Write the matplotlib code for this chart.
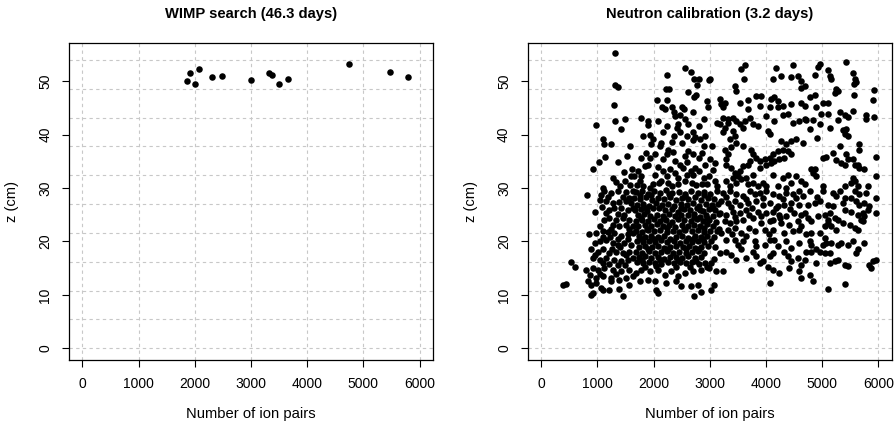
import matplotlib
matplotlib.use("Agg")
import numpy as np
import matplotlib.pyplot as plt

plt.rcParams["font.family"] = ["Liberation Sans", "DejaVu Sans"]

# ---- data (number of ion pairs, z in cm) ----------------------------------
wimp_ions = [1916, 2082, 1857, 2011, 2308, 2480, 2996, 3316, 3375, 3495,
             3665, 4740, 5475, 5790]
wimp_z = [51.6, 52.2, 50.1, 49.5, 50.7, 51.0, 50.3, 51.5, 51.1, 49.5,
          50.5, 53.3, 51.8, 50.7]

neutron_top = [
    (1317, 55.3), (2563, 52.4), (2670, 51.8), (3631, 53.0), (3560, 52.2),
    (4183, 52.5), (4479, 53.0), (4966, 53.3), (4924, 52.6), (5101, 52.1),
    (5429, 53.6), (5547, 51.5), (2805, 50.5), (2996, 50.5),
]

neutron_upper_left = [
    (1305, 49.2), (1364, 49.0), (1287, 45.6), (979, 41.8), (1317, 42.5),
    (1488, 43.0), (1417, 41.1), (1097, 39.2), (1109, 38.3), (1240, 38.3),
    (1572, 37.8), (1139, 35.8), (1518, 35.9), (1032, 34.9), (1364, 34.9),
    (925, 33.5), (1620, 33.6), (1465, 33.0), (1275, 31.9), (1335, 31.1),
    (1483, 31.4), (1394, 30.3), (1572, 30.6), (1097, 30.0), (1602, 32.2),
    (2242, 51.1), (2728, 50.5), (2980, 50.2), (2776, 49.2), (2218, 48.5),
    (2278, 48.5), (2620, 47.9), (2758, 47.4), (2716, 47.0), (2062, 46.5),
    (2230, 46.5), (2950, 46.3), (2968, 45.1), (2152, 45.1), (2200, 44.7),
    (2320, 45.1), (2362, 44.3), (2500, 45.1), (2548, 44.7), (2380, 43.5),
    (2470, 43.6), (2560, 42.9), (2620, 41.9), (1780, 43.1), (1900, 42.6),
    (1900, 41.8), (2080, 42.6), (2230, 41.6), (2440, 41.9), (2410, 41.3),
    (2470, 40.4), (2368, 39.7), (2710, 40.4), (2740, 39.6), (2698, 38.9),
    (2830, 39.1), (2908, 39.7), (1810, 39.7), (1930, 40.0), (1990, 39.1),
    (1960, 38.2), (2890, 37.9), (3040, 37.9), (3130, 42.2), (2140, 38.5),
    (2110, 37.9), (2260, 37.2), (2230, 36.3), (2170, 35.4), (2500, 38.5),
    (2560, 36.0), (2620, 36.9), (2710, 36.3), (2800, 35.7), (2860, 36.6),
    (1780, 35.7), (1870, 36.6), (1930, 35.7), (1900, 34.4), (1840, 34.1),
    (2380, 35.1), (2470, 34.4), (2530, 33.8), (2740, 33.8), (2710, 32.5),
    (2920, 34.4), (3010, 35.4), (3100, 34.7), (1720, 33.2), (1660, 32.2),
    (1780, 32.2), (1750, 31.3), (1810, 30.4), (2020, 32.5), (2170, 33.2),
    (2230, 32.2), (2140, 31.3), (2260, 31.0), (2320, 30.4), (2440, 31.9),
    (2440, 30.7), (2560, 31.3), (2890, 31.9), (2980, 32.2), (2860, 30.7),
    (2950, 30.7), (3100, 31.3), (3130, 30.4), (1990, 30.7), (1930, 30.0),
    (2080, 33.9), (2300, 33.6), (2600, 34.9), (2660, 33.2), (2810, 33.1),
    (2590, 32.4), (2090, 30.9), (2680, 31.0), (2760, 30.5), (2350, 36.7),
    (2020, 36.4), (2320, 38.6), (2590, 39.8), (2800, 41.6), (2160, 40.5),
    (1700, 30.6), (2380, 32.8), (3050, 33.4), (2900, 43.0), (2700, 44.3),
]

neutron_upper_right = [
    (3607, 50.4), (4123, 50.4), (4271, 51.0), (4449, 50.7), (4568, 51.0),
    (4627, 50.1), (3441, 49.1), (3459, 48.2), (4627, 48.8), (3174, 46.6),
    (3204, 45.7), (3233, 45.1), (3263, 46.0), (3530, 46.0), (3678, 46.4),
    (3826, 47.2), (3915, 47.2), (3886, 45.4), (3678, 44.7), (4093, 46.6),
    (4152, 47.1), (4212, 46.3), (4449, 45.8), (4627, 46.0), (4064, 45.1),
    (4212, 45.1), (4301, 45.4), (4004, 43.5), (4152, 42.6), (4301, 43.7),
    (4390, 43.9), (4479, 42.1), (4597, 42.6), (3233, 43.2), (3322, 42.9),
    (3411, 43.2), (3471, 42.6), (3530, 41.9), (3619, 42.6), (3708, 43.2),
    (3589, 41.3), (3767, 41.9), (3856, 41.6), (3174, 41.9), (3263, 41.3),
    (3322, 42.2), (3233, 40.4), (3411, 40.7), (3441, 39.7), (3352, 39.1),
    (4034, 40.7), (4064, 40.1), (4271, 38.8), (4360, 38.2), (4449, 38.8),
    (4538, 39.1), (4657, 38.5), (3263, 37.2), (3322, 36.3), (3293, 35.4),
    (3382, 37.6), (3471, 38.5), (3589, 37.9), (3737, 37.2), (3767, 36.3),
    (3826, 35.7), (3886, 35.1), (3975, 35.4), (4064, 35.7), (4123, 36.3),
    (4212, 36.9), (4301, 37.2), (4390, 36.9), (4449, 36.3), (3293, 34.4),
    (3382, 33.8), (3441, 32.9), (3530, 33.2), (3589, 34.1), (3678, 34.4),
    (3708, 35.1), (3886, 33.8), (4004, 34.4), (4093, 34.7), (4152, 35.1),
    (4241, 35.4), (4330, 35.7), (3411, 31.9), (3500, 32.2), (3559, 31.6),
    (3648, 31.9), (3767, 32.5), (3293, 31.3), (3352, 30.4), (3471, 31.0),
    (4123, 32.5), (4390, 32.5), (4538, 32.2), (4627, 31.3), (4449, 31.0),
    (4301, 31.9), (3945, 31.0), (4004, 30.4), (3767, 31.0), (3856, 30.4),
    (3678, 30.7), (4212, 30.4), (4360, 30.0),
    (4865, 51.1), (5132, 51.0), (5161, 50.5), (5577, 50.4), (5606, 49.9),
    (5565, 49.4), (4687, 49.1), (5250, 48.5), (5280, 48.2), (5233, 47.7),
    (5932, 48.3), (5565, 47.4), (5903, 46.4), (4776, 47.0), (4865, 47.4),
    (4687, 45.4), (4895, 45.1), (4984, 43.9), (5013, 46.0), (5102, 46.0),
    (5102, 43.9), (5310, 44.3), (5399, 43.7), (5458, 43.3), (5547, 44.4),
    (5784, 43.7), (5784, 43.0), (5932, 43.3), (4687, 42.9), (4717, 42.7),
    (4835, 42.7), (4954, 41.9), (4776, 41.0), (5132, 41.3), (5280, 42.7),
    (5369, 40.8), (5428, 41.0), (5399, 40.1), (5458, 39.7), (4912, 39.4),
    (5310, 37.9), (5665, 38.2), (5665, 37.2), (5013, 35.7), (5072, 35.8),
    (5191, 36.5), (5250, 35.2), (5339, 34.6), (5428, 36.3), (5458, 35.4),
    (5399, 34.4), (5547, 35.4), (5577, 34.4), (5636, 34.3), (5665, 33.8),
    (5754, 33.5), (5962, 35.8), (4806, 33.6), (4865, 33.5), (4835, 32.9),
    (4895, 32.2), (4687, 30.7), (5013, 30.4), (5547, 31.9), (5577, 31.3),
    (5517, 31.0), (5636, 30.4), (5399, 30.4), (5813, 30.4), (5962, 32.2),
]

neutron_core_left = [
    (812, 28.6), (1126, 29.4), (1245, 29.1), (1364, 29.4), (1512, 29.2),
    (1631, 29.4), (1038, 27.8), (1156, 27.5), (1275, 27.2), (1393, 27.3),
    (1512, 27.5), (1601, 27.2), (949, 25.6), (1156, 25.3), (1215, 25.9),
    (1304, 26.3), (1423, 26.3), (1542, 25.9), (1631, 26.3), (1126, 24.1),
    (1215, 24.4), (1334, 24.1), (1453, 24.4), (1571, 24.1), (1275, 23.1),
    (1393, 22.8), (1512, 23.1), (1631, 22.8), (848, 21.3), (978, 21.6),
    (1097, 21.9), (1186, 21.7), (1304, 21.5), (1423, 21.0), (1542, 21.3),
    (1631, 21.6), (949, 19.7), (1038, 20.0), (1156, 20.3), (1275, 19.7),
    (1364, 19.4), (1482, 19.7), (1601, 19.4), (889, 18.5), (1008, 18.1),
    (1097, 18.5), (1215, 17.8), (1334, 18.1), (1453, 17.8), (1571, 18.1),
    (919, 16.9), (1038, 16.6), (1156, 16.9), (1304, 16.6), (1423, 16.3),
    (1542, 16.6), (1631, 16.9), (533, 16.1), (593, 15.2), (800, 14.7),
    (919, 15.0), (1008, 14.7), (1126, 15.0), (1275, 14.7), (1423, 14.4),
    (1571, 14.7), (860, 13.8), (978, 13.1), (1097, 13.5), (1245, 13.1),
    (1393, 12.8), (1512, 13.1), (1631, 13.5), (385, 11.9), (445, 12.0),
    (830, 12.5), (889, 11.9), (978, 12.2), (1245, 12.5), (1571, 11.9),
    (1067, 11.3), (1097, 11.0), (1215, 11.0), (1393, 11.1), (919, 10.3),
    (889, 10.0), (1453, 9.7),
    (1070, 28.6), (1190, 28.4), (1450, 28.3), (1570, 28.2), (1090, 26.4),
    (1360, 25.2), (1480, 25.0), (1250, 22.4), (1570, 22.3), (1040, 22.9),
    (1100, 20.8), (1230, 20.9), (1360, 20.4), (1540, 20.4), (960, 17.4),
    (1260, 18.6), (1400, 18.9), (1510, 17.5), (1100, 16.0), (1370, 15.5),
    (1200, 15.7), (1500, 15.6), (1050, 13.9), (1330, 13.9),
]

neutron_core_mid = [
    (1690, 29.2), (1795, 29.5), (1905, 28.9), (2010, 29.4), (2115, 29.0),
    (2225, 29.6), (2330, 29.1), (2445, 29.3), (2555, 28.8), (2670, 29.5),
    (2785, 29.0), (2895, 29.3), (3005, 28.9), (3120, 29.4),
    (1660, 28.1), (1750, 27.9), (1860, 28.3), (1965, 27.8), (2070, 28.2),
    (2180, 28.0), (2285, 28.4), (2395, 27.7), (2505, 28.2), (2620, 27.9),
    (2735, 28.3), (2850, 27.8), (2960, 28.1), (3075, 28.0),
    (1710, 26.9), (1815, 27.1), (1925, 26.7), (2035, 27.2), (2150, 26.8),
    (2255, 27.0), (2370, 26.6), (2480, 27.1), (2590, 26.8), (2700, 27.2),
    (2810, 26.7), (2925, 27.0), (3040, 26.8), (3150, 27.1),
    (1670, 25.9), (1780, 26.1), (1885, 25.7), (1990, 26.2), (2210, 25.8),
    (2320, 26.0), (2430, 25.6), (2545, 26.1), (2655, 25.8), (2765, 26.2),
    (2875, 25.7), (2990, 26.0), (3100, 25.9),
    (1725, 24.9), (1830, 25.1), (1940, 24.7), (2060, 25.0), (2165, 24.8),
    (2275, 25.2), (2385, 24.7), (2495, 25.0), (2605, 24.9), (2715, 25.1),
    (2825, 24.6), (2940, 25.0), (3050, 24.8), (3160, 25.2),
    (1680, 23.9), (1785, 24.1), (1895, 23.8), (2005, 24.2), (2115, 23.9),
    (2225, 24.0), (2335, 23.7), (2550, 24.1), (2660, 23.8), (2770, 24.2),
    (2880, 23.9), (2995, 24.0), (3105, 23.7),
    (1730, 22.9), (1840, 23.1), (1950, 22.8), (2060, 23.2), (2170, 22.9),
    (2280, 23.0), (2390, 22.7), (2500, 23.1), (2610, 22.8), (2720, 23.0),
    (2830, 22.9), (2945, 23.2), (3060, 22.8),
    (1690, 22.0), (1795, 21.8), (1905, 22.1), (2010, 21.9), (2120, 22.2),
    (2235, 21.8), (2345, 22.0), (2455, 21.7), (2565, 22.1), (2675, 21.9),
    (2785, 22.2), (2895, 21.8), (3010, 22.0), (3120, 21.9),
    (1740, 21.0), (1850, 20.8), (1960, 21.1), (2070, 20.9), (2180, 21.1),
    (2400, 20.8), (2510, 21.0), (2620, 20.7), (2730, 21.1), (2840, 20.9),
    (2955, 21.0), (3070, 20.8),
    (1700, 20.0), (1810, 19.8), (1915, 20.1), (2025, 19.9), (2135, 20.2),
    (2245, 19.8), (2355, 20.0), (2465, 19.7), (2575, 20.1), (2685, 19.9),
    (2795, 20.1), (2905, 19.8), (3020, 20.0),
    (1745, 19.0), (1855, 19.2), (1965, 18.9), (2075, 19.1), (2185, 18.8),
    (2295, 19.0), (2405, 19.2), (2515, 18.9), (2625, 19.1), (2740, 18.8),
    (2850, 19.0), (2960, 19.1),
    (1690, 18.1), (1800, 17.9), (1910, 18.2), (2020, 17.8), (2130, 18.0),
    (2240, 18.2), (2350, 17.9), (2460, 18.1), (2570, 17.8), (2680, 18.0),
    (2790, 18.2), (2900, 17.9),
    (1740, 17.0), (1850, 17.2), (1960, 16.9), (2070, 17.1), (2180, 16.8),
    (2290, 17.1), (2400, 17.0), (2510, 16.9), (2620, 17.2), (2730, 16.9),
    (2840, 17.0),
    (1700, 16.1), (1810, 15.9), (1920, 16.2), (2030, 16.0), (2140, 15.8),
    (2250, 16.1), (2360, 15.9), (2470, 16.2), (2580, 15.9), (2690, 16.1),
    (2800, 15.8), (2910, 16.0), (3030, 15.9),
    (1691, 14.1), (1780, 14.7), (1928, 14.4), (2076, 14.7), (2195, 13.8),
    (2313, 14.4), (2432, 13.5), (2551, 14.1), (2699, 14.4), (2847, 14.7),
    (2995, 15.0), (3114, 14.4), (1750, 12.5), (1898, 12.8), (2017, 12.5),
    (2224, 12.2), (2402, 12.5), (2491, 11.6), (2669, 11.6), (2788, 11.9),
    (2847, 10.6), (3084, 11.9), (3025, 10.9), (2046, 10.9), (2076, 10.3),
    (2728, 9.7),
    (1750, 28.7), (1960, 28.6), (2280, 28.9), (2560, 28.5), (2900, 28.6),
    (1870, 26.2), (2100, 26.3), (2480, 26.2), (2820, 25.9), (3060, 26.2),
    (1780, 24.3), (2190, 24.4), (2440, 24.2), (2720, 24.5), (2950, 24.4),
    (1880, 22.4), (2230, 22.5), (2540, 22.3), (2890, 22.5), (3170, 22.4),
    (1790, 20.5), (2000, 20.5), (2300, 20.4), (2700, 20.5), (2880, 20.4),
    (1900, 18.6), (2250, 18.5), (2580, 18.6), (2810, 18.5), (3100, 18.9),
    (1790, 16.6), (2120, 16.5), (2440, 16.6), (2760, 16.4), (3080, 16.7),
    (1850, 15.3), (2050, 15.4), (2400, 15.2), (2650, 15.2), (2950, 15.3),
]

neutron_core_right = [
    (3233, 29.1), (3352, 29.4), (3471, 28.8), (3589, 28.5), (3708, 29.4),
    (3797, 28.8), (3886, 29.1), (4004, 29.4), (4123, 28.8), (4241, 28.5),
    (4360, 29.1), (4479, 28.8), (4597, 29.4), (4657, 28.5),
    (3204, 27.5), (3322, 27.2), (3441, 27.5), (3530, 26.9), (3678, 27.2),
    (3826, 27.5), (3945, 26.9), (4064, 27.2), (4212, 26.6), (4330, 26.9),
    (4449, 27.2), (4597, 26.9),
    (3174, 25.3), (3293, 25.0), (3411, 25.6), (3530, 25.3), (3648, 25.9),
    (3856, 25.6), (3915, 24.7), (4004, 25.3), (4123, 25.6), (4241, 25.0),
    (4360, 24.7), (4508, 25.3), (4627, 25.0),
    (3263, 23.8), (3352, 23.5), (3471, 23.8), (3589, 24.1), (3767, 24.4),
    (3915, 23.5), (4064, 23.8), (4123, 24.1), (4271, 23.5), (4419, 23.1),
    (4568, 23.8), (4627, 22.8),
    (3204, 21.6), (3322, 22.2), (3441, 22.5), (3559, 21.6), (3648, 21.0),
    (3797, 21.9), (3975, 22.2), (4123, 22.2), (4330, 21.6), (4479, 21.9),
    (4597, 22.2),
    (3293, 20.3), (3441, 20.3), (3500, 19.4), (3797, 20.0), (3826, 19.1),
    (4064, 20.3), (4152, 20.3), (4212, 19.1), (4360, 20.0), (4449, 18.8),
    (4597, 19.7),
    (3174, 17.8), (3293, 18.1), (3382, 17.5), (3471, 16.6), (3559, 18.5),
    (3648, 16.9), (3767, 18.1), (3826, 17.2), (3945, 16.3), (4064, 17.2),
    (4123, 17.8), (4330, 18.1), (4390, 17.2), (4449, 16.3), (4568, 16.9),
    (4627, 15.6),
    (3233, 14.4), (3737, 14.7), (3886, 15.9), (4034, 15.3), (4123, 14.7),
    (4241, 14.1), (4419, 15.0), (4597, 14.4), (4064, 12.2), (4627, 13.1),
    (4776, 29.4), (5013, 29.4), (5191, 29.1), (5250, 28.5), (5310, 29.4),
    (5577, 29.4), (5665, 28.8), (5784, 29.1), (5962, 28.1), (4746, 26.9),
    (4865, 27.2), (4954, 27.5), (5102, 26.9), (5191, 26.6), (5369, 27.2),
    (5517, 28.1), (5606, 27.5), (5665, 26.9), (5754, 27.2), (5843, 26.6),
    (5962, 25.3), (4687, 25.3), (4746, 24.4), (4806, 23.8), (4924, 24.7),
    (5043, 25.0), (5132, 25.3), (5221, 24.4), (5280, 24.1), (5399, 25.9),
    (5517, 25.6), (5636, 25.0), (5725, 25.3), (5814, 25.9), (5695, 24.1),
    (5043, 22.8), (5102, 23.5), (5161, 22.8), (5250, 22.2), (5369, 23.5),
    (5488, 23.1), (5577, 22.5), (5636, 22.2), (5725, 23.8), (5754, 24.7),
    (4717, 21.3), (4806, 21.6), (4776, 20.0), (4806, 19.4), (4954, 21.6),
    (5043, 20.6), (5072, 19.7), (5013, 19.4), (5161, 19.7), (5280, 19.4),
    (5339, 19.7), (5458, 19.4), (5547, 20.0), (5754, 19.7), (5636, 18.5),
    (5606, 17.8), (4717, 18.1), (4806, 18.1), (4895, 18.5), (4954, 18.1),
    (5043, 17.8), (5132, 17.8), (4687, 16.6), (4895, 16.0), (5132, 16.0),
    (5221, 16.3), (5280, 16.5), (5399, 15.6), (5458, 15.4), (5843, 15.6),
    (5903, 16.3), (5962, 16.6), (5873, 15.0), (4776, 13.8), (4835, 12.5),
    (5102, 11.1), (5399, 12.0),
    (3290, 28.3), (3650, 28.0), (3950, 28.1), (4300, 27.9), (4540, 28.1),
    (3380, 26.4), (3760, 26.3), (4180, 26.2), (4420, 26.1), (3450, 24.6),
    (3700, 25.0), (4250, 24.3), (3400, 21.4), (3700, 22.6), (4050, 21.3),
    (3590, 20.0), (3980, 19.4), (4900, 28.4), (5400, 28.2), (5100, 24.0),
]

neutron_points = (neutron_top + neutron_upper_left + neutron_upper_right
                  + neutron_core_left + neutron_core_mid + neutron_core_right)
neutron_ions = [p[0] for p in neutron_points]
neutron_z = [p[1] for p in neutron_points]

x_ticks = list(range(0, 6001, 1000))
y_ticks = list(range(0, 51, 10))


def draw_panel(ax, ions, z, title):
    ax.set_xlim(-240, 6240)
    ax.set_ylim(-2.2, 57.2)
    grid_kw = dict(color="#c8c8c8", lw=0.8, ls=(0, (3, 3)), zorder=0)
    for xv in x_ticks:
        ax.axvline(xv, **grid_kw)
    for yv in np.arange(0, 54.1, 5.4):
        ax.axhline(yv, **grid_kw)
    ax.plot(ions, z, "o", color="black", ms=4.7, mew=0, zorder=3)

    ax.set_xticks(x_ticks)
    ax.set_yticks(y_ticks)
    ax.tick_params(direction="out", length=5, width=0.8, labelsize=10,
                   pad=7, color="black")
    for lab in ax.get_yticklabels():
        lab.set_rotation(90)
        lab.set_va("center")
    for sp in ax.spines.values():
        sp.set_linewidth(0.9)
    ax.set_title(title, fontsize=10.6, fontweight="bold", pad=18)
    ax.set_xlabel("Number of ion pairs", fontsize=10.6, labelpad=12)
    ax.set_ylabel("z (cm)", fontsize=10.6, labelpad=14)


fig = plt.figure(figsize=(8.96, 4.23), dpi=100)
ax_left = fig.add_axes([0.0770, 0.1489, 0.4063, 0.7501])
ax_right = fig.add_axes([0.5890, 0.1489, 0.4063, 0.7501])

draw_panel(ax_left, wimp_ions, wimp_z, "WIMP search (46.3 days)")
draw_panel(ax_right, neutron_ions, neutron_z, "Neutron calibration (3.2 days)")

fig.savefig("out.png", dpi=100)
